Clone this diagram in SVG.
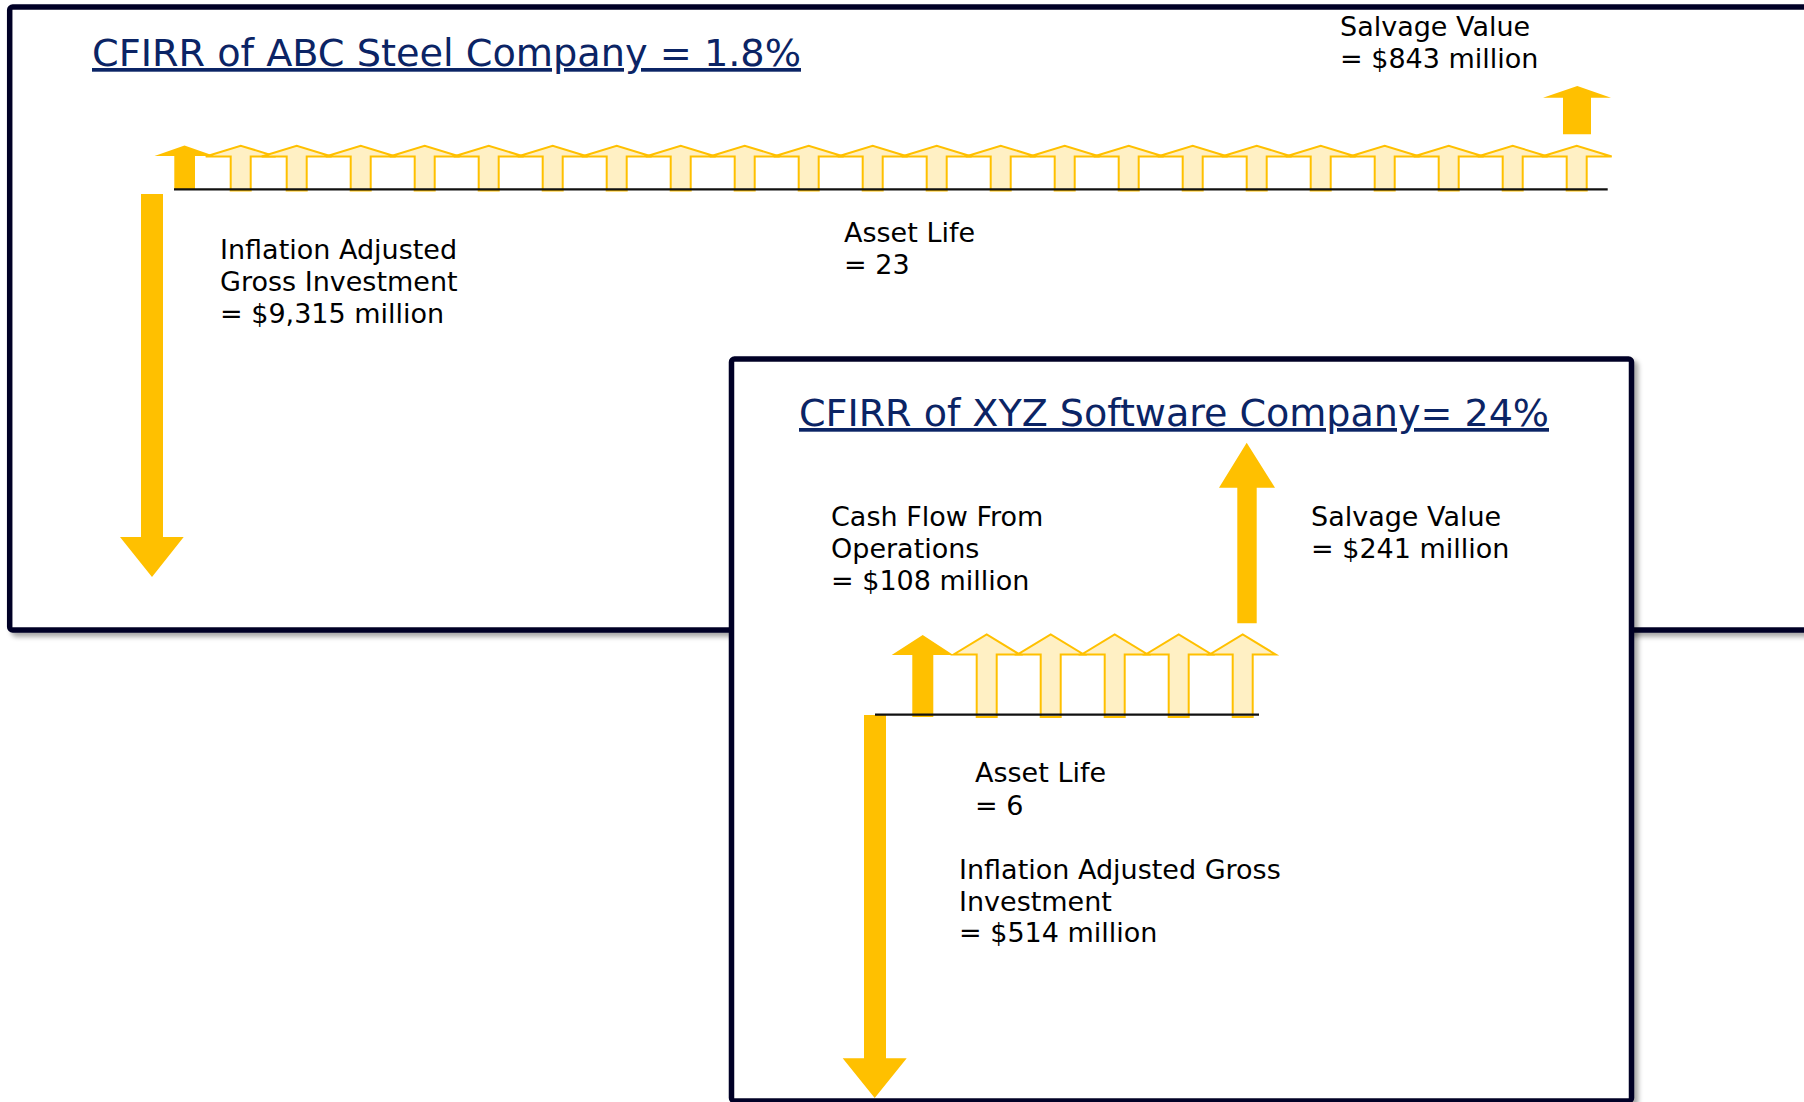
<svg xmlns="http://www.w3.org/2000/svg" xmlns:xlink="http://www.w3.org/1999/xlink" width="1804" height="1102" viewBox="0 0 1804 1102">
<style>
.box{fill:#fff;stroke:#060626;stroke-width:5.5}
.title{font-family:"DejaVu Sans Condensed","DejaVu Sans",sans-serif;font-stretch:condensed;font-size:37px;fill:#0B2465;text-decoration:underline}
.lbl{font-family:"DejaVu Sans",Verdana,sans-serif;font-size:27px;fill:#000}
.solid{fill:#FFC000;stroke:none}
.light{fill:#FFF0C4;stroke:#FFC000;stroke-width:2;stroke-linejoin:miter}
.axis{stroke:#111;stroke-width:2.2;fill:none}
</style>
<defs>
<filter id="sh" x="-5%" y="-5%" width="115%" height="115%">
<feDropShadow dx="4" dy="4" stdDeviation="2.5" flood-color="#000" flood-opacity="0.35"/>
</filter>
<path id="lt" d="M-10,44.8 V10.8 H-35 L0,0 L35,10.8 H10 V44.8 Z"/>
<path id="lb" d="M-10,82.5 V20 H-33 L0,0 L33,20 H10 V82.5 Z"/>
</defs>
<rect width="1804" height="1102" fill="#fff"/>

<g id="panel-abc">
<rect class="box" x="9.7" y="7" width="1830" height="623" rx="3" filter="url(#sh)"/>
<text class="title" x="92" y="66" textLength="709" lengthAdjust="spacingAndGlyphs">CFIRR of ABC Steel Company = 1.8%</text>
<text class="lbl" x="1340" y="35.7">Salvage Value</text>
<text class="lbl" x="1340" y="67.7">= $843 million</text>
<text class="lbl" x="220" y="259.3">Inflation Adjusted</text>
<text class="lbl" x="220" y="291">Gross Investment</text>
<text class="lbl" x="220" y="322.7">= $9,315 million</text>
<text class="lbl" x="844" y="242.3">Asset Life</text>
<text class="lbl" x="844" y="274.3">= 23</text>
</g>

<g id="panel-xyz">
<rect class="box" x="731.5" y="359" width="900" height="742" rx="3" filter="url(#sh)"/>
<text class="title" x="799" y="426" textLength="750" lengthAdjust="spacingAndGlyphs">CFIRR of XYZ Software Company= 24%</text>
<text class="lbl" x="831" y="526">Cash Flow From</text>
<text class="lbl" x="831" y="558">Operations</text>
<text class="lbl" x="831" y="590">= $108 million</text>
<text class="lbl" x="1311" y="525.7">Salvage Value</text>
<text class="lbl" x="1311" y="557.7">= $241 million</text>
<text class="lbl" x="975" y="782.3">Asset Life</text>
<text class="lbl" x="975" y="814.5">= 6</text>
<text class="lbl" x="959" y="879">Inflation Adjusted Gross</text>
<text class="lbl" x="959" y="910.7">Investment</text>
<text class="lbl" x="959" y="942.3">= $514 million</text>
</g>

<g id="connectors">
<g id="abc-flows">
<polygon class="solid" points="141,194 163,194 163,537 183.7,537 152,577 120,537 141,537"/>
<polygon class="solid" points="174.3,190 174.3,156 154.5,156 184.5,145.5 214.5,156 195,156 195,190"/>
<polygon class="solid" points="1563,134.3 1563,97.7 1543,97.7 1577.3,86 1611,97.7 1591,97.7 1591,134.3"/>
<use href="#lt" class="light" x="240.7" y="145.7"/>
<use href="#lt" class="light" x="296.7" y="145.7"/>
<use href="#lt" class="light" x="360.7" y="145.7"/>
<use href="#lt" class="light" x="424.7" y="145.7"/>
<use href="#lt" class="light" x="488.7" y="145.7"/>
<use href="#lt" class="light" x="552.7" y="145.7"/>
<use href="#lt" class="light" x="616.7" y="145.7"/>
<use href="#lt" class="light" x="680.7" y="145.7"/>
<use href="#lt" class="light" x="744.7" y="145.7"/>
<use href="#lt" class="light" x="808.7" y="145.7"/>
<use href="#lt" class="light" x="872.7" y="145.7"/>
<use href="#lt" class="light" x="936.7" y="145.7"/>
<use href="#lt" class="light" x="1000.7" y="145.7"/>
<use href="#lt" class="light" x="1064.7" y="145.7"/>
<use href="#lt" class="light" x="1128.7" y="145.7"/>
<use href="#lt" class="light" x="1192.7" y="145.7"/>
<use href="#lt" class="light" x="1256.7" y="145.7"/>
<use href="#lt" class="light" x="1320.7" y="145.7"/>
<use href="#lt" class="light" x="1384.7" y="145.7"/>
<use href="#lt" class="light" x="1448.7" y="145.7"/>
<use href="#lt" class="light" x="1512.7" y="145.7"/>
<use href="#lt" class="light" x="1576.7" y="145.7"/>
<line class="axis" x1="174" y1="189.3" x2="1607.7" y2="189.3"/>
</g>
<g id="xyz-flows">
<polygon class="solid" points="864,715 886,715 886,1058.3 906.7,1058.3 874.7,1098 842.7,1058.3 864,1058.3"/>
<polygon class="solid" points="912.3,717 912.3,655 891.7,655 922.7,635 953.3,655 933.3,655 933.3,717"/>
<polygon class="solid" points="1237.3,623.3 1237.3,487.7 1219,487.7 1246.7,442.7 1275,487.7 1256.7,487.7 1256.7,623.3"/>
<use href="#lb" class="light" x="986.7" y="634.5"/>
<use href="#lb" class="light" x="1050.7" y="634.5"/>
<use href="#lb" class="light" x="1114.7" y="634.5"/>
<use href="#lb" class="light" x="1178.7" y="634.5"/>
<use href="#lb" class="light" x="1242.7" y="634.5"/>
<line class="axis" x1="875" y1="714.7" x2="1259" y2="714.7"/>
</g>
</g>
</svg>
